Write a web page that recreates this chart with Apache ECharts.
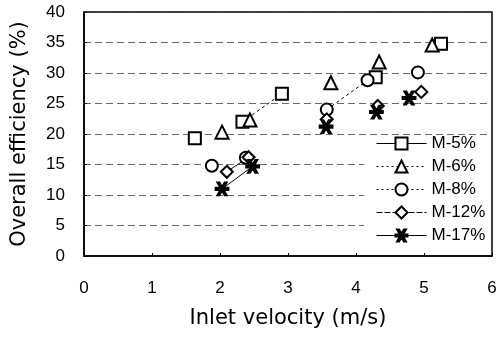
<!DOCTYPE html>
<html>
<head>
<meta charset="utf-8">
<script src="https://cdn.jsdelivr.net/npm/echarts@6/dist/echarts.min.js"></script>
<style>
  html, body { margin: 0; padding: 0; background: #fff; }
  #chart { width: 501px; height: 338px; }
</style>
</head>
<body>
<div id="chart"></div>
<script>
// data: [inlet velocity (m/s), overall efficiency (%)]
const m5 = [[1.63, 19.3], [2.33, 22.0], [2.91, 26.6], [4.29, 29.3], [5.25, 34.8]];
const m6 = [[2.03, 20.3], [2.44, 22.3], [3.63, 28.4], [4.34, 31.8], [5.12, 34.6]];
const m8 = [[1.88, 14.8], [2.38, 16.1], [3.57, 24.0], [4.17, 28.8], [4.91, 30.1]];
const m12 = [[2.10, 13.8], [2.42, 16.2], [3.57, 22.4], [4.32, 24.6], [4.96, 26.9]];
const m17 = [[2.03, 11.0], [2.48, 14.7], [3.56, 21.2], [4.30, 23.6], [4.78, 25.9]];

const names = ['M-5%', 'M-6%', 'M-8%', 'M-12%', 'M-17%'];
const xTicks = [0, 1, 2, 3, 4, 5, 6];
const yTicks = [0, 5, 10, 15, 20, 25, 30, 35, 40];

// asterisk marker
const star = 'path://M0,4.1L10,4.1L10,5.9L0,5.9Z M1.3,0L3,0L8.7,10L7,10Z M7,0L8.7,0L3,10L1.3,10Z';

const groups = [
  { name: names[0], data: m5, symbol: 'emptyRect', size: 12, line: 'solid' },
  { name: names[1], data: m6, symbol: 'emptyTriangle', size: 13, line: [2, 3] },
  { name: names[2], data: m8, symbol: 'emptyCircle', size: 12, line: [2, 3] },
  { name: names[3], data: m12, symbol: 'emptyDiamond', size: 12, line: [6, 2] },
  { name: names[4], data: m17, symbol: star, size: 13, line: 'solid' }
];

// short fitted segments visible in the figure: [group index, from point, to point, line type]
const segs = [
  [0, 1, 2, [3, 3]],
  [2, 2, 3, [3, 3]],
  [3, 0, 1, 'solid'],
  [4, 0, 1, 'solid']
];

let chart = echarts.init(document.getElementById('chart'), null, { renderer: 'canvas' });

let series = groups.map((g) => ({
  name: g.name,
  type: 'line',
  data: g.data,
  symbol: g.symbol,
  symbolSize: g.size,
  showSymbol: true,
  color: '#000',
  itemStyle: { color: '#000', borderColor: '#000', borderWidth: 1.8 },
  lineStyle: { opacity: 0 },
  z: 5,
  animation: false
}));

segs.forEach((s) => {
  let g = groups[s[0]];
  series.push({
    name: 'seg',
    type: 'line',
    data: [g.data[s[1]], g.data[s[2]]],
    showSymbol: false,
    silent: true,
    lineStyle: { color: '#000', width: 1, type: s[3] },
    z: 3,
    animation: false
  });
});

let options = {
  animation: false,
  backgroundColor: '#fff',
  grid: {
    left: 84, right: 9, top: 12, bottom: 82,
    show: true, borderColor: '#000', borderWidth: 1.5
  },
  legend: {
    orient: 'vertical',
    left: 364,
    top: 135,
    padding: [0, 4, 4, 12],
    backgroundColor: '#fff',
    itemWidth: 50,
    itemHeight: 15,
    itemGap: 6,
    textStyle: { fontFamily: 'Liberation Sans', fontSize: 17, color: '#000', lineHeight: 17 },
    data: groups.map((g) => ({
      name: g.name,
      itemStyle: { borderWidth: 2 },
      lineStyle: { color: '#000', width: 1, opacity: 1, type: g.line }
    }))
  },
  xAxis: {
    type: 'value',
    min: xTicks[0],
    max: xTicks[xTicks.length - 1],
    interval: 1,
    name: 'Inlet velocity (m/s)',
    nameLocation: 'middle',
    nameGap: 52,
    nameTextStyle: { fontFamily: 'DejaVu Sans', fontSize: 21, color: '#000' },
    axisLine: { show: true, lineStyle: { color: '#000', width: 1.5 } },
    axisTick: { show: true, inside: true, length: 3, lineStyle: { color: '#000' } },
    axisLabel: { margin: 24, fontFamily: 'Liberation Sans', fontSize: 17, color: '#000' },
    splitLine: { show: false }
  },
  yAxis: {
    type: 'value',
    min: yTicks[0],
    max: yTicks[yTicks.length - 1],
    interval: 5,
    name: 'Overall efficiency (%)',
    nameLocation: 'middle',
    nameGap: 54,
    nameTextStyle: { fontFamily: 'DejaVu Sans', fontSize: 21, color: '#000' },
    axisLine: { show: true, lineStyle: { color: '#000', width: 1.5 } },
    axisTick: { show: true, inside: true, length: 3, lineStyle: { color: '#000' } },
    axisLabel: { margin: 19, fontFamily: 'Liberation Sans', fontSize: 17, color: '#000' },
    splitLine: { show: true, lineStyle: { color: '#444', width: 0.8, type: [7, 4] } }
  },
  series: series
};

chart.setOption(options);
</script>
</body>
</html>
